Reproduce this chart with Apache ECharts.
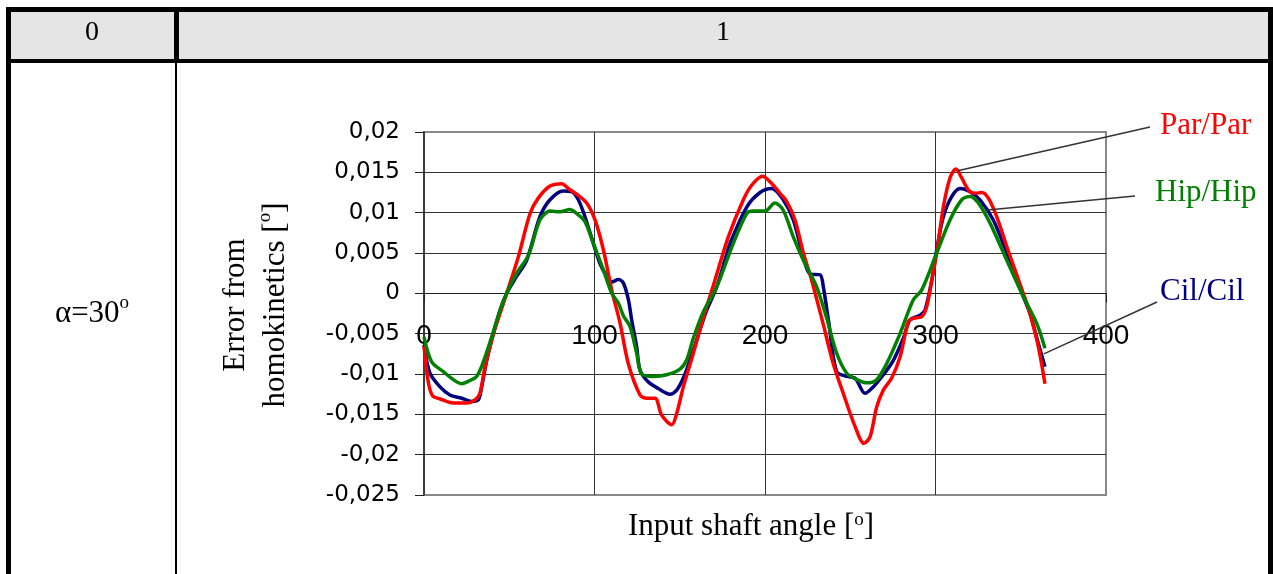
<!DOCTYPE html>
<html>
<head>
<meta charset="utf-8">
<script src="https://cdn.jsdelivr.net/npm/echarts@6/dist/echarts.min.js"></script>
<style>
  html, body { margin: 0; padding: 0; background: #fff; }
  #chart { width: 1273px; height: 574px; }
</style>
</head>
<body>
<div id="chart"></div>
<script>
// curves: [input shaft angle, error]
var parPar = [[0,-0.0065],[2.5,-0.011],[5,-0.0127],[9.4,-0.0131],[17.2,-0.0136],[25,-0.0136],[29.9,-0.0132],[32.8,-0.0124],[35.8,-0.0091],[40.7,-0.005],[44.6,-0.0025],[48.5,0],[55.3,0.0045],[62.2,0.0099],[67,0.0118],[73.9,0.0133],[80.8,0.0136],[84.6,0.013],[89.5,0.0123],[95.4,0.0112],[100.3,0.0091],[105.2,0.0054],[110.1,0.0004],[115,-0.0037],[119.8,-0.0087],[126.7,-0.0126],[130.6,-0.013],[135.5,-0.013],[139.4,-0.0151],[145.3,-0.0163],[148.2,-0.0149],[152.1,-0.0116],[158,-0.0074],[164,-0.0029],[170.6,0.0016],[178.5,0.007],[187.3,0.0116],[192.2,0.0134],[198.6,0.0145],[203.5,0.0137],[208.8,0.0124],[212.7,0.0114],[217.6,0.0091],[222.5,0.005],[227.4,0.0016],[234,-0.0037],[240,-0.0087],[245.9,-0.0124],[252.8,-0.0165],[258.1,-0.0186],[261.6,-0.0178],[265.5,-0.0141],[269.4,-0.012],[274.3,-0.0105],[279.2,-0.0079],[284.1,-0.0035],[287,-0.0031],[291.9,-0.0029],[294.8,-0.0017],[297.8,0.0016],[300.7,0.005],[304.6,0.0107],[308.5,0.0143],[312,0.0154],[315.4,0.0143],[319.3,0.0128],[323.2,0.0124],[327.1,0.0125],[331,0.0118],[335.9,0.0095],[341.8,0.0058],[346.6,0.0029],[351.5,0],[355.4,-0.0025],[360.3,-0.0066],[364.2,-0.0112]];
var cilCil = [[0,-0.0064],[3.5,-0.0099],[9.4,-0.0116],[15.2,-0.0126],[22.1,-0.013],[28,-0.0134],[31.9,-0.0132],[33.8,-0.0116],[36.8,-0.0083],[40.7,-0.005],[44.6,-0.0021],[48.5,0],[54,0.002],[60.2,0.0041],[68,0.0095],[73.9,0.0116],[81.7,0.0127],[86.6,0.0126],[90.5,0.0116],[94.4,0.0095],[99.3,0.0062],[103.2,0.0037],[107.2,0.0021],[110.1,0.0014],[114,0.0017],[116.9,0.0013],[119.9,-0.0008],[121.8,-0.0033],[124.7,-0.0066],[126.7,-0.0095],[131.6,-0.011],[137.4,-0.0118],[144.3,-0.0125],[148.2,-0.012],[152.1,-0.0105],[156,-0.0083],[161.9,-0.0045],[166,-0.002],[171.7,0.0008],[177,0.0045],[179.5,0.0062],[189.3,0.0107],[197.1,0.0125],[203.9,0.013],[210.7,0.0116],[216.6,0.0091],[222.5,0.0045],[226.4,0.0024],[232.3,0.0023],[234.2,0.0008],[237.2,-0.0033],[242,-0.0097],[247.9,-0.0103],[252.8,-0.0105],[258.7,-0.0124],[263.5,-0.0116],[269.4,-0.0101],[275.3,-0.0083],[281.1,-0.0056],[285,-0.0033],[290.9,-0.0027],[293.8,-0.0021],[297.8,0.0016],[300.7,0.0054],[304.6,0.0095],[309.5,0.012],[314.4,0.013],[320.2,0.0126],[326.1,0.0116],[333.9,0.0091],[341.8,0.005],[351.5,-0.0004],[355.4,-0.0025],[360.3,-0.0062],[364.2,-0.0091]];
var hipHip = [[0,-0.0054],[4.5,-0.0085],[11.3,-0.0097],[17.2,-0.0107],[22.1,-0.0112],[27,-0.0108],[30.9,-0.0103],[34.8,-0.0085],[39.7,-0.0054],[44.6,-0.0021],[48.5,0],[54.4,0.0025],[61.2,0.0047],[68,0.0091],[73.9,0.0102],[79.8,0.0101],[85.6,0.0104],[89.5,0.0099],[94.4,0.0089],[99.3,0.0062],[105.2,0.0029],[110.1,0],[114,-0.0012],[117,-0.0028],[120.8,-0.0041],[124.7,-0.0074],[127.6,-0.01],[134.4,-0.0103],[142.3,-0.0101],[150.1,-0.0094],[154,-0.0083],[157.9,-0.0056],[163.8,-0.0023],[171.7,0.0008],[181.4,0.0062],[189.3,0.0099],[193.1,0.0102],[200,0.0102],[205.8,0.0112],[210.7,0.0103],[216.6,0.007],[222.5,0.0041],[230.3,0.0008],[236.2,-0.0031],[242,-0.0074],[247.9,-0.0099],[253.8,-0.0107],[259.6,-0.0111],[265.5,-0.0107],[271.4,-0.0087],[279.2,-0.005],[287,-0.0008],[291.9,0.0004],[300.7,0.005],[308.5,0.0091],[315.4,0.0116],[320.2,0.012],[325.1,0.0112],[332,0.0087],[341.8,0.0041],[351.5,-0.0004],[359.3,-0.0037],[364.2,-0.0068]];

var seriesNames = ['Cil/Cil', 'Par/Par', 'Hip/Hip'];
var seriesData = [cilCil, parPar, hipHip];
var seriesColors = ['#000080', '#ff0000', '#008000'];
// point on each curve where the leader line starts
var labelAnchors = [[363.6, -0.0075], [313, 0.0152], [329, 0.0103]];
var headerLabels = ['0', '1'];

var serif = 'Liberation Serif';
var chart = echarts.init(document.getElementById('chart'));

var sup = { s: { fontFamily: serif, fontSize: 19, verticalAlign: 'top', lineHeight: 30, color: '#000' } };

var option = {
  animation: false,
  grid: {
    left: 424, top: 132, width: 682, height: 363,
    outerBoundsMode: 'none', containLabel: false,
    show: true, borderColor: '#888', borderWidth: 2, backgroundColor: '#fff'
  },
  xAxis: {
    type: 'value', min: 0, max: 400, interval: 100,
    axisLine: { onZero: true, lineStyle: { color: '#222', width: 1 } },
    axisTick: { show: true, length: 9, lineStyle: { color: '#222' } },
    // labels are laid out from the grid bottom, so pull them up to sit under the zero line
    axisLabel: { margin: -173, showMinLabel: true, showMaxLabel: true, fontFamily: 'Liberation Sans', fontSize: 28, color: '#000' },
    splitLine: { show: true, lineStyle: { color: ['rgba(0,0,0,0)', '#333', '#333', '#333', 'rgba(0,0,0,0)'], width: 1 } },
    name: 'Input shaft angle [{s|o}]',
    nameLocation: 'middle', nameGap: 16,
    nameTextStyle: { fontFamily: serif, fontSize: 31, color: '#000', padding: [0, 28, 0, 0], rich: sup }
  },
  yAxis: {
    type: 'value', min: -0.025, max: 0.02, interval: 0.005,
    axisLine: { show: true, lineStyle: { color: '#222', width: 1.5 } },
    axisTick: { show: true, length: 9, lineStyle: { color: '#222' } },
    axisLabel: {
      margin: 24, showMinLabel: true, showMaxLabel: true, hideOverlap: false,
      fontFamily: 'DejaVu Sans', fontSize: 23, color: '#000', padding: [4, 0, 0, 0],
      formatter: function (v) { return String(Number(v.toFixed(3))).replace('.', ','); }
    },
    splitLine: { show: true, lineStyle: { color: ['rgba(0,0,0,0)', '#333', '#333', '#333', '#333', '#333', '#333', '#333', '#333', 'rgba(0,0,0,0)'], width: 1 } },
    name: 'Error from\nhomokinetics [{s|o}]',
    nameLocation: 'middle', nameGap: 128, nameRotate: 90,
    nameTextStyle: { fontFamily: serif, fontSize: 31, lineHeight: 40, color: '#000', padding: [0, 0, 0, 17], rich: sup }
  },
  series: seriesData.map(function (d, i) {
    return {
      name: seriesNames[i], type: 'line', data: d,
      smooth: 0.3, showSymbol: false,
      lineStyle: { color: seriesColors[i], width: 3.5 },
      z: 2 + i
    };
  })
};
chart.setOption(option);

// table frame round the chart
var g = [
  { type: 'rect', shape: { x: 11, y: 12, width: 1257, height: 47 }, style: { fill: '#e5e5e5' } },
  { type: 'rect', shape: { x: 6, y: 7, width: 1267, height: 5 }, style: { fill: '#000' } },
  { type: 'rect', shape: { x: 6, y: 7, width: 5, height: 567 }, style: { fill: '#000' } },
  { type: 'rect', shape: { x: 1268, y: 7, width: 5, height: 567 }, style: { fill: '#000' } },
  { type: 'rect', shape: { x: 6, y: 59, width: 1267, height: 4 }, style: { fill: '#000' } },
  { type: 'rect', shape: { x: 174, y: 7, width: 5, height: 56 }, style: { fill: '#000' } },
  { type: 'rect', shape: { x: 175, y: 63, width: 2, height: 511 }, style: { fill: '#000' } },
  { type: 'text', x: 92, y: 33, style: { text: headerLabels[0], font: '28px ' + serif, fill: '#000', align: 'center', verticalAlign: 'middle' } },
  { type: 'text', x: 723, y: 33, style: { text: headerLabels[1], font: '28px ' + serif, fill: '#000', align: 'center', verticalAlign: 'middle' } },
  { type: 'text', x: 92, y: 314, style: { text: 'α=30{s|o}', font: '31px ' + serif, fill: '#000', align: 'center', verticalAlign: 'middle', lineHeight: 40, rich: sup } }
];

// leader lines and curve names
var labelEnds = [[1157, 302], [1150, 127], [1135, 196]];
var labelPos = [[1160, 292], [1160, 126], [1155, 193]];
for (var i = 0; i < seriesNames.length; i++) {
  var p = chart.convertToPixel({ gridIndex: 0 }, labelAnchors[i]);
  g.push({ type: 'line', z: 10, shape: { x1: p[0], y1: p[1], x2: labelEnds[i][0], y2: labelEnds[i][1] }, style: { stroke: '#333', lineWidth: 1.5 } });
  g.push({ type: 'text', z: 10, x: labelPos[i][0], y: labelPos[i][1], style: { text: seriesNames[i], font: '31px ' + serif, fill: seriesColors[i], align: 'left', verticalAlign: 'middle' } });
}
chart.setOption({ graphic: g });
</script>
</body>
</html>
